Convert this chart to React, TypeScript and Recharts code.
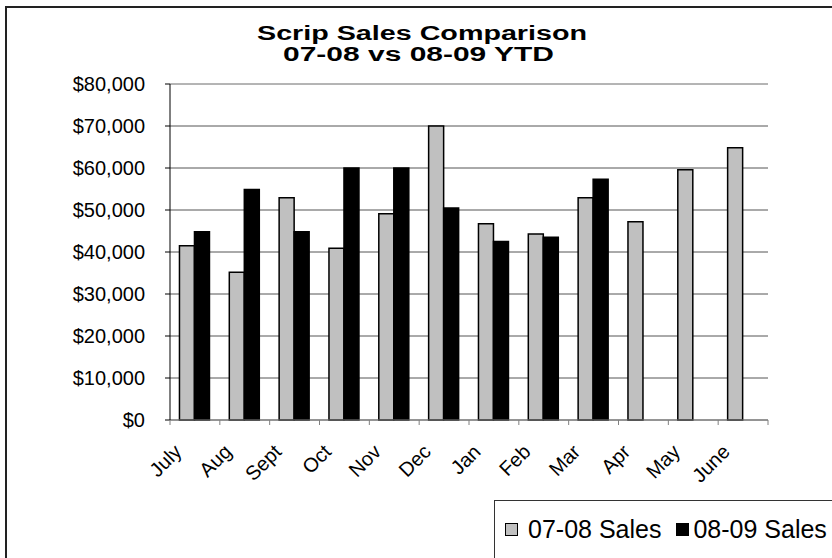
import React from 'react'
import { BarChart, Bar, XAxis, YAxis, CartesianGrid, ReferenceLine } from 'recharts'

const months = ['July', 'Aug', 'Sept', 'Oct', 'Nov', 'Dec', 'Jan', 'Feb', 'Mar', 'Apr', 'May', 'June']
const sales0708 = [41500, 35200, 52900, 40900, 49100, 70000, 46700, 44300, 52900, 47200, 59600, 64800]
const sales0809: (number | null)[] = [44800, 54900, 44800, 60000, 60000, 50500, 42500, 43500, 57300, null, null, null]
const yTicks = [0, 10000, 20000, 30000, 40000, 50000, 60000, 70000, 80000]

const seriesNames = ['07-08 Sales', '08-09 Sales']
const seriesColors = ['#c0c0c0', '#000000']

const FONT = '"Liberation Sans", Arial, sans-serif'

// layout
const W = 832
const H = 558
const PLOT_LEFT = 170
const PLOT_TOP = 84
const PLOT_RIGHT = 768
const PLOT_BOTTOM = 420
const BAND = (PLOT_RIGHT - PLOT_LEFT) / months.length

const data = months.map((m, i) => ({
  month: m,
  s0708: sales0708[i],
  s0809: sales0809[i],
}))

const money = (v: number) => '$' + v.toLocaleString('en-US')

const XTick = (props: any) => {
  const { x, payload, index } = props
  const left = x - BAND / 2
  const ax = x - 12
  const ay = PLOT_BOTTOM + 33
  return (
    <g>
      <line x1={left} x2={left} y1={PLOT_BOTTOM} y2={PLOT_BOTTOM + 5} stroke="#808080" />
      {index === months.length - 1 && (
        <line x1={x + BAND / 2} x2={x + BAND / 2} y1={PLOT_BOTTOM} y2={PLOT_BOTTOM + 5} stroke="#808080" />
      )}
      <text
        x={ax}
        y={ay}
        transform={`rotate(-45 ${ax} ${ay})`}
        textAnchor="end"
        fontSize={20}
        fontFamily={FONT}
        fill="#000"
      >
        {payload.value}
      </text>
    </g>
  )
}

export default function App() {
  return (
    <div style={{ position: 'relative', width: W, height: H, overflow: 'hidden', background: '#fff', fontFamily: FONT }}>
      <style>{'body{margin:0}'}</style>
      <div
        style={{
          position: 'absolute',
          left: 5,
          top: 6,
          width: 900,
          height: 700,
          border: '2px solid #222',
          boxSizing: 'border-box',
        }}
      />
      <div style={{ position: 'absolute', left: 0, top: 0 }}>
        <BarChart
          width={W}
          height={H}
          data={data}
          margin={{ top: PLOT_TOP, right: W - PLOT_RIGHT, bottom: 0, left: 0 }}
          barCategoryGap="19%"
          barGap={0}
        >
          <CartesianGrid vertical={false} stroke="#555" />
          <ReferenceLine y={80000} stroke="#c0c0c0" />
          <XAxis
            dataKey="month"
            height={H - PLOT_BOTTOM}
            interval={0}
            tickLine={false}
            axisLine={{ stroke: '#808080' }}
            tick={<XTick />}
          />
          <YAxis
            width={PLOT_LEFT}
            domain={[0, 80000]}
            ticks={yTicks}
            tickFormatter={money}
            tickSize={5}
            tickMargin={20}
            tickLine={{ stroke: '#000' }}
            axisLine={{ stroke: '#000' }}
            tick={{ fill: '#000', fontSize: 20, fontFamily: FONT }}
          />
          <Bar dataKey="s0708" name={seriesNames[0]} fill={seriesColors[0]} stroke="#000" strokeWidth={1.5} isAnimationActive={false} />
          <Bar dataKey="s0809" name={seriesNames[1]} fill={seriesColors[1]} stroke="#000" strokeWidth={1.5} isAnimationActive={false} />
        </BarChart>
      </div>
      <svg width={W} height={H} style={{ position: 'absolute', left: 0, top: 0, pointerEvents: 'none' }}>
        <text x={422} y={40} textAnchor="middle" fontSize={20} fontWeight="bold" fontFamily={FONT} textLength={330} lengthAdjust="spacingAndGlyphs">
          Scrip Sales Comparison
        </text>
        <text x={418.5} y={61} textAnchor="middle" fontSize={20} fontWeight="bold" fontFamily={FONT} textLength={271} lengthAdjust="spacingAndGlyphs">
          07-08 vs 08-09 YTD
        </text>
      </svg>
      <div
        style={{
          position: 'absolute',
          left: 494,
          top: 500,
          width: 400,
          height: 58,
          borderLeft: '1px solid #333',
          borderTop: '1px solid #333',
          display: 'flex',
          alignItems: 'center',
          paddingLeft: 10,
          boxSizing: 'border-box',
          whiteSpace: 'nowrap',
          fontSize: 25,
          color: '#000',
        }}
      >
        {seriesNames.map((n, i) => (
          <span key={n} style={{ display: 'inline-flex', alignItems: 'center', marginRight: 15 }}>
            <span
              style={{
                display: 'inline-block',
                width: 11,
                height: 11,
                background: seriesColors[i],
                border: '1px solid #000',
                marginRight: i === 0 ? 10 : 4,
              }}
            />
            {n}
          </span>
        ))}
      </div>
    </div>
  )
}
